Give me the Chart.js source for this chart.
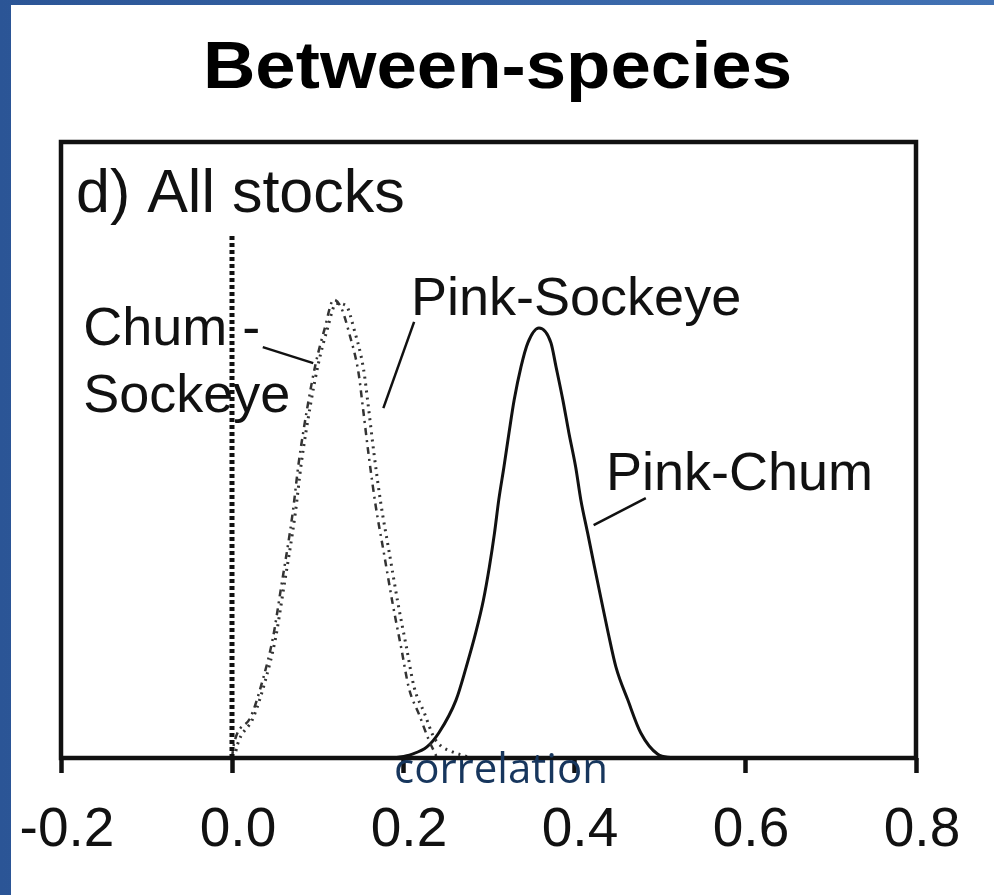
<!DOCTYPE html>
<html>
<head>
<meta charset="utf-8">
<script src="https://cdn.jsdelivr.net/npm/chart.js@4.4.1/dist/chart.umd.min.js"></script>
<style>
  html, body { margin: 0; padding: 0; }
  body { width: 994px; height: 895px; position: relative; overflow: hidden;
         background: linear-gradient(90deg, #2b5596, #4272b4); }
  #panel { position: absolute; left: 11px; top: 5px; width: 983px; height: 890px; background: #fff; }
</style>
</head>
<body>
<div id="panel"><canvas id="densityChart" width="983" height="890"></canvas></div>
<script>
// correlation values (x) and relative density (y) for each species pair
const chumSockeyeX = [0.0, 0.002, 0.022, 0.036, 0.048, 0.057, 0.071, 0.078, 0.089, 0.098,
                      0.108, 0.119, 0.128, 0.137, 0.148, 0.153, 0.160, 0.168, 0.178, 0.188,
                      0.198, 0.207, 0.219, 0.230, 0.240];
const chumSockeyeY = [0, 0.021, 0.067, 0.127, 0.196, 0.273, 0.398, 0.479, 0.576, 0.641,
                      0.695, 0.744, 0.73, 0.69, 0.625, 0.57, 0.49, 0.41, 0.33, 0.25,
                      0.178, 0.113, 0.07, 0.03, 0];

const pinkSockeyeX = [0.003, 0.006, 0.025, 0.039, 0.051, 0.060, 0.074, 0.081, 0.092, 0.101,
                      0.111, 0.122, 0.133, 0.143, 0.154, 0.159, 0.166, 0.174, 0.184, 0.194,
                      0.204, 0.213, 0.225, 0.236, 0.244, 0.258, 0.28];
const pinkSockeyeY = [0, 0.02, 0.066, 0.126, 0.195, 0.272, 0.397, 0.478, 0.575, 0.64,
                      0.694, 0.738, 0.735, 0.695, 0.63, 0.576, 0.495, 0.414, 0.333, 0.252,
                      0.18, 0.115, 0.073, 0.034, 0.02, 0.01, 0];

const pinkChumX = [0.19, 0.21, 0.228, 0.242, 0.262, 0.274, 0.285, 0.294, 0.301, 0.307,
                   0.312, 0.318, 0.324, 0.330, 0.338, 0.346, 0.359, 0.373, 0.379, 0.387,
                   0.394, 0.402, 0.408, 0.416, 0.424, 0.432, 0.440, 0.449, 0.463, 0.478,
                   0.498, 0.515];
const pinkChumY = [0, 0.006, 0.018, 0.041, 0.094, 0.148, 0.203, 0.256, 0.310, 0.365,
                   0.419, 0.472, 0.528, 0.581, 0.635, 0.674, 0.698, 0.674, 0.635, 0.581,
                   0.528, 0.472, 0.419, 0.365, 0.310, 0.256, 0.203, 0.148, 0.094, 0.041,
                   0.006, 0];

// reference line at zero correlation
const zeroLineX = [0, 0];
const zeroLineY = [0, 0.849];

const xTicks = [-0.2, 0.0, 0.2, 0.4, 0.6, 0.8];

const pts = (xs, ys) => xs.map((v, i) => ({ x: v, y: ys[i] }));

Chart.defaults.font.family = "'Liberation Sans', Arial, sans-serif";
Chart.defaults.color = '#111';

// heading, box around the plot, pair labels and their pointer lines
const frameAndLabels = {
  id: 'frameAndLabels',
  afterDatasetsDraw(chart, args, opts) {
    const { ctx, chartArea: a, scales: { x, y } } = chart;
    ctx.save();
    ctx.strokeStyle = '#111';
    ctx.lineWidth = 4.5;
    ctx.strokeRect(a.left, a.top, a.right - a.left, a.bottom - a.top);

    ctx.lineWidth = 2.5;
    opts.leaders.forEach(([x0, y0, x1, y1]) => {
      ctx.beginPath();
      ctx.moveTo(x.getPixelForValue(x0), y.getPixelForValue(y0));
      ctx.lineTo(x.getPixelForValue(x1), y.getPixelForValue(y1));
      ctx.stroke();
    });

    ctx.textBaseline = 'alphabetic';
    opts.labels.forEach(l => {
      ctx.font = l.font;
      ctx.fillStyle = l.color || '#111';
      ctx.textAlign = l.align || 'left';
      ctx.fillText(l.text, x.getPixelForValue(l.x), y.getPixelForValue(l.y));
    });

    // heading, a little wider than the plain bold face
    const h = opts.heading;
    ctx.font = h.font;
    ctx.fillStyle = '#000';
    ctx.textAlign = 'center';
    ctx.translate(chart.width / 2 - 5, h.baseline);
    ctx.scale(h.stretch, 1);
    ctx.fillText(h.text, 0, 0);
    ctx.restore();
  }
};

const labelFont = "54px 'Liberation Sans', Arial, sans-serif";

new Chart(document.getElementById('densityChart'), {
  type: 'line',
  data: {
    datasets: [
      {
        label: 'zero',
        data: pts(zeroLineX, zeroLineY),
        borderColor: '#111',
        borderWidth: 5,
        borderDash: [4, 3],
        tension: 0
      },
      {
        label: 'Chum-Sockeye',
        data: pts(chumSockeyeX, chumSockeyeY),
        borderColor: '#333',
        borderWidth: 2.5,
        borderDash: [7, 5, 2, 5],
        cubicInterpolationMode: 'monotone'
      },
      {
        label: 'Pink-Sockeye',
        data: pts(pinkSockeyeX, pinkSockeyeY),
        borderColor: '#333',
        borderWidth: 3,
        borderDash: [2, 5],
        cubicInterpolationMode: 'monotone'
      },
      {
        label: 'Pink-Chum',
        data: pts(pinkChumX, pinkChumY),
        borderColor: '#111',
        borderWidth: 3,
        cubicInterpolationMode: 'monotone'
      }
    ]
  },
  options: {
    responsive: false,
    animation: false,
    devicePixelRatio: 1,
    layout: { padding: { left: 50, right: 78, top: 137, bottom: 0 } },
    elements: { point: { radius: 0 } },
    plugins: {
      legend: { display: false },
      tooltip: { enabled: false },
      title: { display: false },
      frameAndLabels: {
        heading: {
          text: 'Between-species',
          font: "bold 66px 'Liberation Sans', Arial, sans-serif",
          baseline: 83,
          stretch: 1.1
        },
        leaders: [
          [0.036, 0.667, 0.095, 0.641],
          [0.213, 0.708, 0.177, 0.568],
          [0.484, 0.422, 0.423, 0.378]
        ],
        labels: [
          { text: 'd) All stocks', x: -0.1825, y: 0.886, font: "61px 'Liberation Sans', Arial, sans-serif" },
          { text: 'Chum -', x: -0.174, y: 0.670, font: labelFont },
          { text: 'Sockeye', x: -0.174, y: 0.562, font: labelFont },
          { text: 'Pink-Sockeye', x: 0.2094, y: 0.719, font: labelFont },
          { text: 'Pink-Chum', x: 0.4374, y: 0.435, font: labelFont },
          { text: 'correlation', x: 0.3146, y: -0.0406, align: 'center', color: '#17365d',
            font: "42px 'Open Sans', 'Noto Sans', sans-serif" }
        ]
      }
    },
    scales: {
      x: {
        type: 'linear',
        min: xTicks[0],
        max: xTicks[xTicks.length - 1],
        afterBuildTicks: s => { s.ticks = xTicks.map(v => ({ value: v })); },
        afterFit: s => {
          s.height = 137;
          s.paddingLeft = 0;
          s.paddingRight = 0;
        },
        border: { display: false },
        grid: {
          drawOnChartArea: false,
          drawTicks: true,
          tickLength: 15,
          tickWidth: 4.5,
          color: '#111'
        },
        ticks: {
          autoSkip: false,
          maxRotation: 0,
          padding: 25,
          labelOffset: 6,
          color: '#111',
          font: { size: 55 },
          callback: v => v.toFixed(1)
        }
      },
      y: {
        display: false,
        min: 0,
        max: 1
      }
    }
  },
  plugins: [frameAndLabels]
});
</script>
</body>
</html>
